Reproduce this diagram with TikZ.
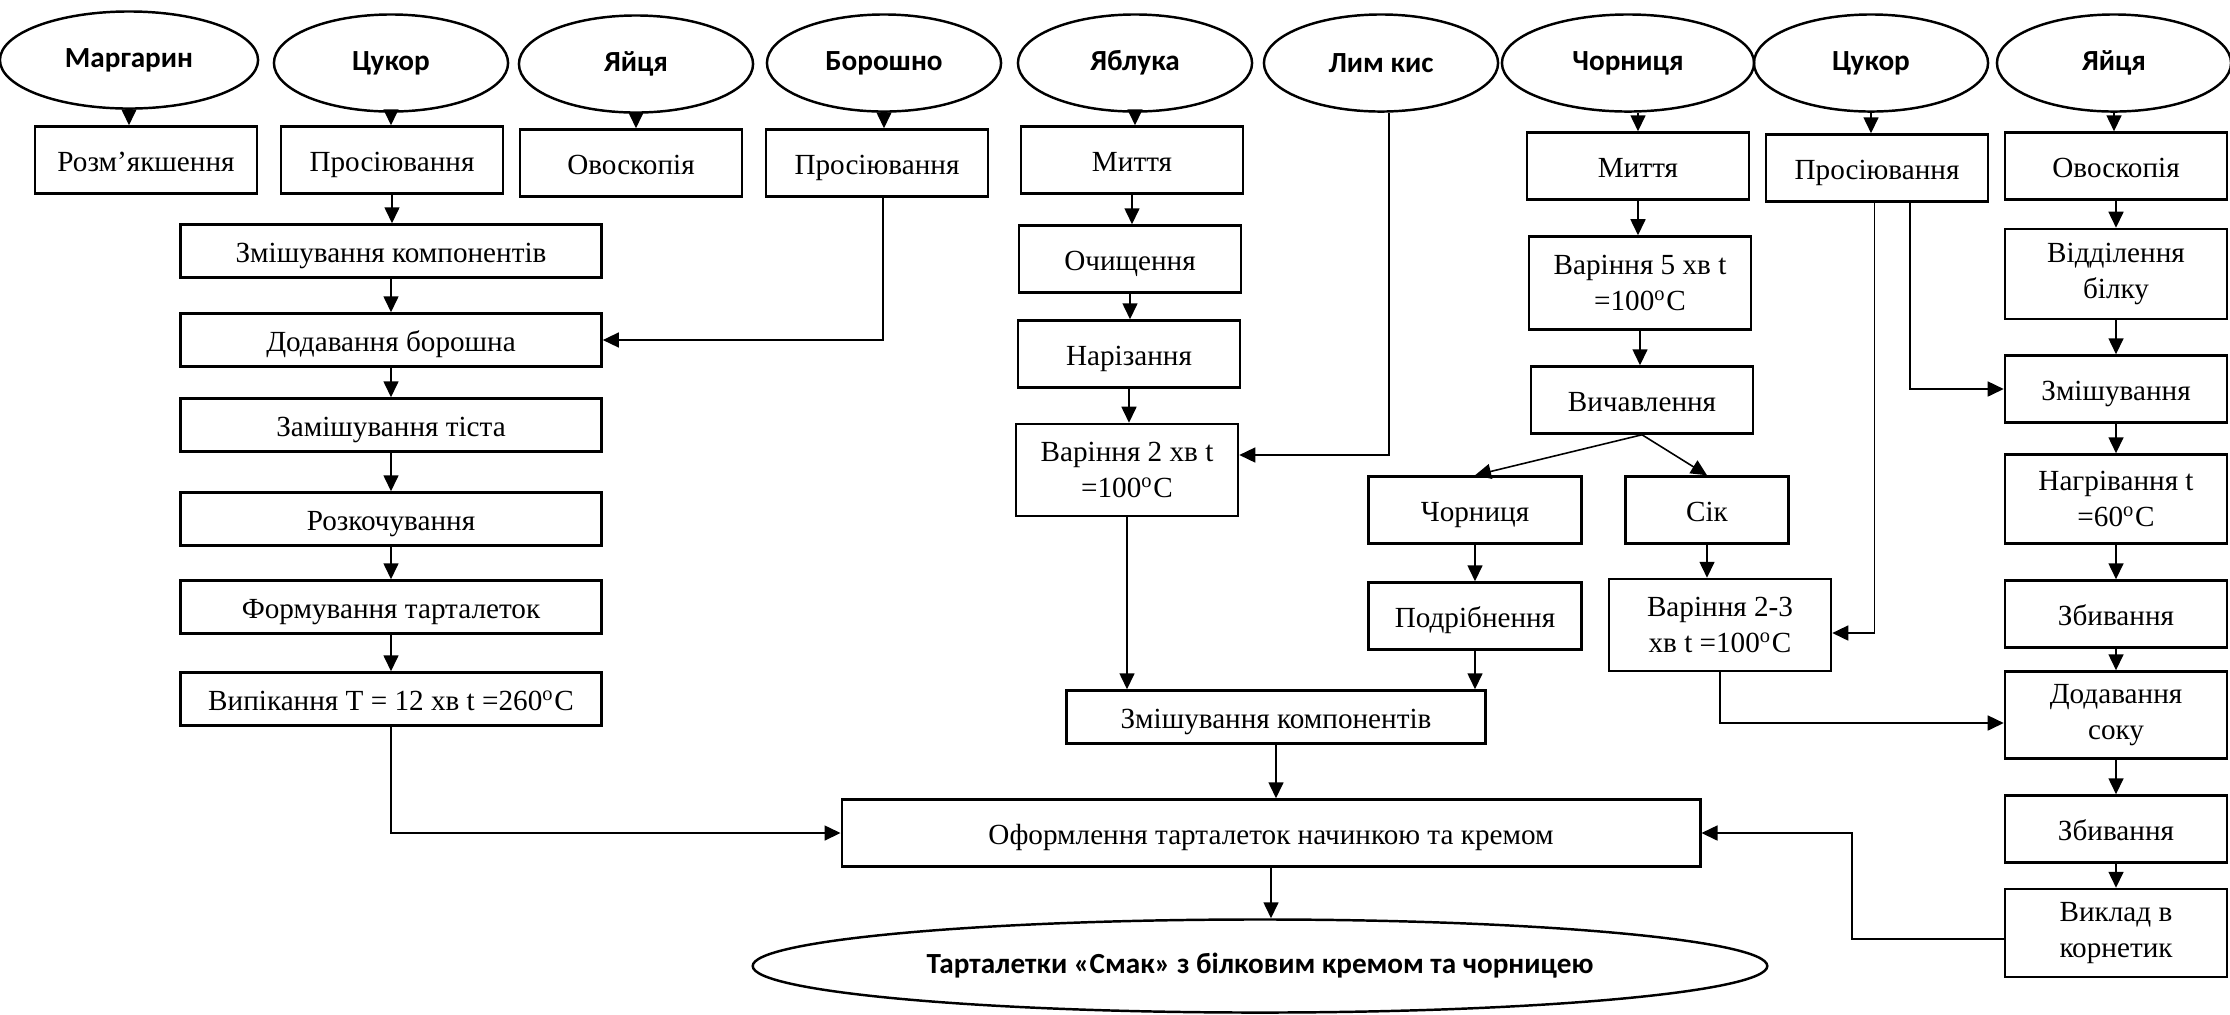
\documentclass[tikz,border=0pt]{standalone}
\usepackage{fontspec}
\setmainfont{Liberation Serif}
\newfontfamily\ingfont{Carlito}
\usetikzlibrary{arrows.meta,shapes.geometric}
\tikzset{
  ing/.style={ellipse,draw,line width=.7pt,minimum width=2.34cm,minimum height=.97cm,
              inner sep=0pt,font=\ingfont\bfseries\fontsize{8.3}{10}\selectfont},
  op/.style ={draw,line width=.7pt,minimum width=2.22cm,minimum height=.67cm,
              inner sep=1pt,align=center,font=\fontsize{8.3}{10}\selectfont,
              text height=.85em,text depth=.2em},
  op2/.style={op,text height={},text depth={}},
  opw/.style={op,minimum width=4.21cm,minimum height=.53cm},
  ar/.style ={-{Triangle[length=1.6mm,width=1.5mm]},line width=.45pt},
}
\begin{document}
\begin{tikzpicture}[x=0.01cm,y=-0.01cm]
  \useasboundingbox (0,0) rectangle (2230,1014);
  % сировина
  \node[ing,minimum width=2.58cm] (m1) at (129,60) {Маргарин};
  \node[ing] (m2) at (391,63) {Цукор};
  \node[ing] (m3) at (636,64) {Яйця};
  \node[ing] (m4) at (884,63) {Борошно};
  \node[ing] (m5) at (1135,63) {Яблука};
  \node[ing] (m6) at (1381,63) {Лим кис};
  \node[ing,minimum width=2.52cm] (m7) at (1628,63) {Чорниця};
  \node[ing] (m8) at (1871,63) {Цукор};
  \node[ing] (m9) at (2114,63) {Яйця};

  % тісто
  \node[op] (b1) at (146,160) {Розм’якшення};
  \node[op] (b2) at (392,160) {Просіювання};
  \node[op] (b3) at (631,163) {Овоскопія};
  \node[op] (b4) at (877,163) {Просіювання};
  \node[opw] (a1) at (391,251) {Змішування компонентів};
  \node[opw] (a2) at (391,340) {Додавання борошна};
  \node[opw] (a3) at (391,425) {Замішування тіста};
  \node[opw] (a4) at (391,519) {Розкочування};
  \node[opw] (a5) at (391,607) {Формування тарталеток};
  \node[opw] (a6) at (391,699) {Випікання T = 12 хв t =260\textsuperscript{o}C};

  % яблука
  \node[op] (c1) at (1132,160) {Миття};
  \node[op] (c2) at (1130,259) {Очищення};
  \node[op] (c3) at (1129,354) {Нарізання};
  \node[op2,minimum height=.92cm] (c4) at (1127,470) {Варіння 2 хв t\\=100\textsuperscript{o}C};

  % чорниця
  \node[op] (d1) at (1638,166) {Миття};
  \node[op2,minimum height=.93cm] (d2) at (1640,283) {Варіння 5 хв t\\=100\textsuperscript{o}C};
  \node[op] (d3) at (1642,400) {Вичавлення};
  \node[op,minimum width=2.13cm] (e1) at (1475,510) {Чорниця};
  \node[op,minimum width=2.13cm] (e2) at (1475,616) {Подрібнення};
  \node[op,minimum width=1.63cm] (f1) at (1707,510) {Сік};
  \node[op2,minimum height=.92cm] (f2) at (1720,625) {Варіння 2-3\\хв t =100\textsuperscript{o}C};
  \node[op] (s1) at (1877,168) {Просіювання};

  % крем
  \node[op] (k1) at (2116,166) {Овоскопія};
  \node[op2,minimum height=.9cm] (k2) at (2116,274) {Відділення\\білку};
  \node[op] (k3) at (2116,389) {Змішування};
  \node[op2,minimum height=.89cm] (k4) at (2116,499) {Нагрівання t\\=60\textsuperscript{o}C};
  \node[op] (k5) at (2116,614) {Збивання};
  \node[op2,minimum height=.87cm] (k6) at (2116,715) {Додавання\\соку};
  \node[op] (k7) at (2116,829) {Збивання};
  \node[op2,minimum height=.88cm] (k8) at (2116,933) {Виклад в\\корнетик};

  % збирання
  \node[opw,minimum width=4.19cm] (g) at (1276,717) {Змішування компонентів};
  \node[op,minimum width=8.58cm] (h) at (1271,833) {Оформлення тарталеток начинкою та кремом};
  \node[ing,minimum width=10.14cm,minimum height=.93cm] (fin) at (1260,966)
       {Тарталетки «Смак» з білковим кремом та чорницею};

  % стрілки
  \foreach \a/\b in {m1/b1,m2/b2,m3/b3,m4/b4,m5/c1,m8/s1,m9/k1,
                     b2/a1,a1/a2,a2/a3,a3/a4,a4/a5,a5/a6,c1/c2,c2/c3,c3/c4,
                     d1/d2,d2/d3,e1/e2,f1/f2,k1/k2,k2/k3,k3/k4,k4/k5,k5/k6,
                     k6/k7,k7/k8,c4/g,e2/g,g/h,h/fin}
    \draw[ar] (\a.south) -- (\a.south |- \b.north);
  \draw[ar] (d1.north |- m7.south) -- (d1.north);
  \draw[ar] (d3.south) -- (e1.north);
  \draw[ar] (d3.south) -- (f1.north);
  \draw[ar] ([xshift=.06cm]b4.south) |- (a2.east);
  \draw[ar] ([xshift=.08cm]m6.south) |- ([yshift=.15cm]c4.east);
  \draw[ar] ([xshift=-.025cm]s1.south) |- ([yshift=-.08cm]f2.east);
  \draw[ar] ([xshift=.33cm]s1.south) |- (k3.west);
  \draw[ar] (f2.south) |- ([yshift=-.08cm]k6.west);
  \draw[ar] (a6.south) |- (h.west);
  \draw[ar] ([yshift=-.06cm]k8.west) -- ++(-152,0) |- (h.east);
\end{tikzpicture}
\end{document}
